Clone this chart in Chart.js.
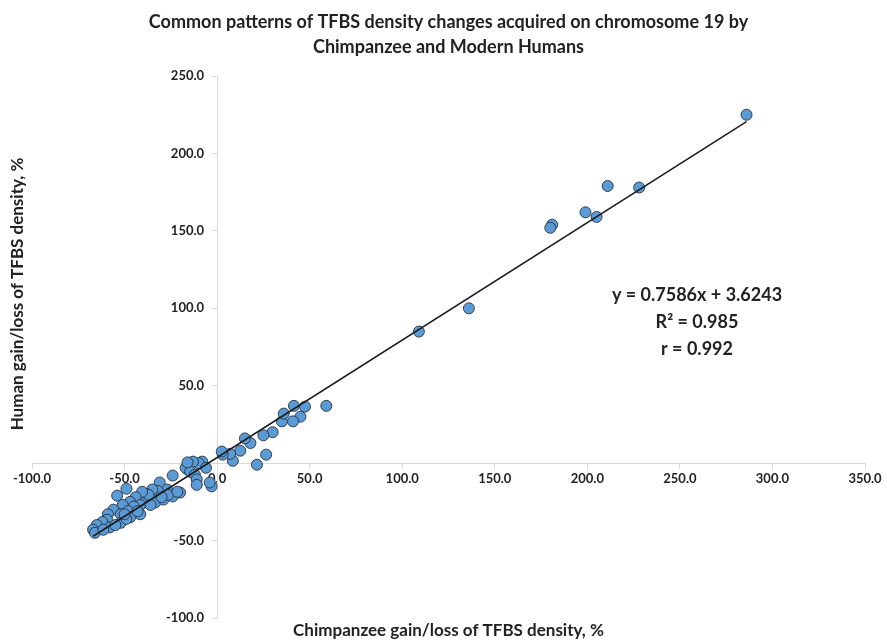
<!DOCTYPE html>
<html><head><meta charset="utf-8">
<script src="https://cdn.jsdelivr.net/npm/chart.js@4/dist/chart.umd.min.js"></script>
<style>html,body{margin:0;padding:0;background:#fff}</style>
</head><body>
<canvas id="c" width="887" height="642"></canvas>
<script>
// ---- data ----
const chimpGain = [286,228,211,199,205,181,180,136,109,
  59,47.5,41.5,45,41,35,36,30,25,18,15,26.5,21.5,12.5,8.5,7,3,2.5,
  -8,-10,-13,-16,-17,-14.5,-12,-11,-11,-3,-4,-24,-31,-20,-24,-27,-32,-35,-38,-33.5,-29,-40,
  -49,-54,-37,-40.5,-44,-47,-51,-41.5,-36,-45,-48,-56,-52,-47,-59,-59.5,-62,-65,-67,-66,
  -58,-61.5,-52,-55,-49,-50,-41.5,-43,-26.5,-21.5,-30,-16,-6];
const humanGain = [225,178,179,162,159,154,152,100,85,
  37,36.5,37,30,27,27,32,20,18,13,16,5.5,-1,8,1.5,6,5.5,7.5,
  1,0,1,-4,-3,-5.5,-7.5,-10.5,-14,-15,-12.5,-8,-12.5,-19,-21.5,-17,-18,-17,-20,-25.5,-23.5,-25.5,
  -16.5,-21,-20.5,-18.5,-22,-25,-27,-27,-27,-28,-31,-30,-33,-35,-33,-36.5,-38,-40,-43,-45,
  -41.5,-43,-38.5,-40,-36,-33,-33,-31,-20.5,-18.5,-22,0.5,-3];
const xTicks = [-100,-50,0,50,100,150,200,250,300,350];
const yTicks = [-100,-50,0,50,100,150,200,250];
const trendSlope = 0.7586;
const trendIntercept = 3.6243;
const titleLines = ['Common patterns of TFBS density changes acquired on chromosome 19 by', 'Chimpanzee and Modern Humans'];
const xTitle = 'Chimpanzee gain/loss of TFBS density, %';
const yTitle = 'Human gain/loss of TFBS density, %';
const statLines = ['y = 0.7586x + 3.6243', 'R\u00B2 = 0.985', 'r = 0.992'];

// ---- build ----
const points = chimpGain.map((x, i) => ({x: x, y: humanGain[i]}));
const xMin = Math.min(...chimpGain), xMax = Math.max(...chimpGain);
const trend = [xMin, xMax].map(x => ({x: x, y: trendSlope * x + trendIntercept}));
const FONT = 'Lato, "Open Sans", sans-serif';
const TXT = '#222222';

const textPlugin = {
  id: 'texts',
  afterDraw(chart) {
    const {ctx, chartArea: a} = chart;
    ctx.save();
    ctx.fillStyle = TXT;
    ctx.textAlign = 'center';
    ctx.textBaseline = 'middle';
    ctx.font = 'bold 17px ' + FONT;
    ctx.fillText(xTitle, (a.left + a.right) / 2, 631);
    ctx.font = 'bold 18px ' + FONT;
    statLines.forEach((s, i) => ctx.fillText(s, 697, 295 + i * 27));
    ctx.translate(18, 294);
    ctx.rotate(-Math.PI / 2);
    ctx.font = 'bold 17px ' + FONT;
    ctx.fillText(yTitle, 0, 0);
    ctx.restore();
  }
};

new Chart(document.getElementById('c'), {
  type: 'scatter',
  data: {
    datasets: [
      {type: 'line', data: trend, borderColor: '#1a1a1a', borderWidth: 1.5, pointRadius: 0, order: 0, fill: false},
      {data: points, backgroundColor: '#5b9bd5', borderColor: 'rgba(40,50,65,0.9)', borderWidth: 1, pointRadius: 5.5, order: 1}
    ]
  },
  options: {
    responsive: false,
    animation: false,
    layout: {padding: {left: 32, right: 22, top: 0, bottom: 24}},
    plugins: {
      legend: {display: false},
      tooltip: {enabled: false},
      title: {display: true, text: titleLines, color: TXT, font: {family: FONT, size: 18, weight: 'bold', lineHeight: 1.39}, padding: {top: 9.5, bottom: 16.5}}
    },
    scales: {
      x: {
        type: 'linear', position: {y: 0}, min: -100, max: 350,
        afterBuildTicks: s => { s.ticks = xTicks.map(v => ({value: v})); },
        grid: {drawOnChartArea: false, drawTicks: true, tickLength: 5, color: '#d9d9d9'},
        border: {display: true, color: '#d9d9d9', width: 1},
        ticks: {callback: v => Number(v).toFixed(1), color: TXT, font: {family: FONT, size: 13, weight: 'bold'}, maxRotation: 0, padding: 3}
      },
      y: {
        type: 'linear', position: {x: 0}, min: -100, max: 250,
        afterBuildTicks: s => { s.ticks = yTicks.map(v => ({value: v})); },
        grid: {drawOnChartArea: false, drawTicks: true, tickLength: 5, color: '#d9d9d9'},
        border: {display: true, color: '#d9d9d9', width: 1},
        ticks: {callback: v => Number(v).toFixed(1) + '\u2002\u2002', color: TXT, font: {family: FONT, size: 13, weight: 'bold'}, padding: 6}
      }
    }
  },
  plugins: [textPlugin]
});
</script>
</body></html>
